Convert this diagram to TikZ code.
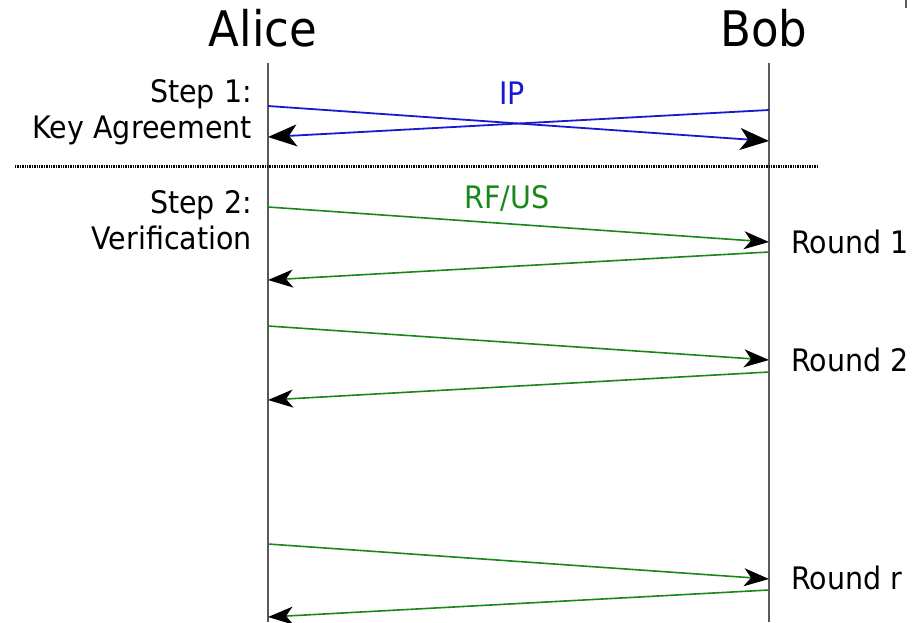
\documentclass[tikz,border=0pt]{standalone}
\usepackage{fontspec}
\setmainfont{DejaVu Sans}[FakeStretch=0.92]
\usetikzlibrary{arrows.meta}
\definecolor{msgblue}{RGB}{25,25,210}
\definecolor{msggreen}{RGB}{25,135,25}
\definecolor{lifeline}{RGB}{90,90,90}
\tikzset{
  party/.style={font=\fontsize{49}{49}\selectfont, anchor=base, inner sep=0pt},
  steplabel/.style={font=\fontsize{31}{31}\selectfont, anchor=base east, inner sep=0pt},
  roundlabel/.style={font=\fontsize{31}{31}\selectfont, anchor=base west, inner sep=0pt},
  lifeline/.style={draw=lifeline, line width=2.2pt},
  ipmsg/.style={draw=msgblue, line width=1.8pt, -{Stealth[length=29pt,width=22pt,inset=8pt,black]}},
  rfmsg/.style={draw=msggreen, line width=1.6pt, -{Stealth[length=25pt,width=18pt,inset=7pt,black]}},
}
\begin{document}
\begin{tikzpicture}[x=1pt, y=-1pt]
\useasboundingbox (0,0) rectangle (912,622);

% participants
\node[party] (alice) at (263,46) {Alice};
\node[party] (bob) at (764,46) {Bob};

% lifelines
\coordinate (atop) at (268,63);
\coordinate (abot) at (268,622);
\coordinate (btop) at (769,63);
\coordinate (bbot) at (769,622);
\draw[lifeline] (atop) -- (abot);
\draw[lifeline] (btop) -- (bbot);

% step labels
\node[steplabel] (s1a) at (252,102) {Step 1:};
\node[steplabel] (s1b) at (252,138) {Key Agreement};
\node[steplabel] (s2a) at (252,213) {Step 2:};
\node[steplabel] (s2b) at (252,249) {Verification};

% separator between the two steps
\coordinate (sepl) at (15,166.5);
\coordinate (sepr) at (818,166.5);
\draw[line width=2.4pt, dash pattern=on 1.4pt off 1pt] (sepl) -- (sepr);

% step 1: key agreement over IP
\node[font=\fontsize{31}{31}\selectfont, text=msgblue, anchor=base, inner sep=0pt] (ip) at (512,104) {IP};
\coordinate (k1s) at (268,106);
\coordinate (k1e) at (769,141);
\coordinate (k2s) at (769,110);
\coordinate (k2e) at (268,137);
\draw[ipmsg] (k1s) -- (k1e);
\draw[ipmsg] (k2s) -- (k2e);

% step 2: verification rounds over RF/US
\node[font=\fontsize{31}{31}\selectfont, text=msggreen, anchor=base, inner sep=0pt] (rf) at (507,208) {RF/US};

\coordinate (r1s) at (268,207);
\coordinate (r1e) at (769,242);
\coordinate (r1bs) at (769,252);
\coordinate (r1be) at (268,280);
\draw[rfmsg] (r1s) -- (r1e);
\draw[rfmsg] (r1bs) -- (r1be);
\node[roundlabel] (round1) at (791,253) {Round 1};

\coordinate (r2s) at (268,326);
\coordinate (r2e) at (769,360);
\coordinate (r2bs) at (769,372);
\coordinate (r2be) at (268,400);
\draw[rfmsg] (r2s) -- (r2e);
\draw[rfmsg] (r2bs) -- (r2be);
\node[roundlabel] (round2) at (791,371) {Round 2};

\coordinate (rrs) at (268,544);
\coordinate (rre) at (769,579);
\coordinate (rrbs) at (769,590);
\coordinate (rrbe) at (268,617);
\draw[rfmsg] (rrs) -- (rre);
\draw[rfmsg] (rrbs) -- (rrbe);
\node[roundlabel] (roundr) at (791,589) {Round r};

% small mark at the top edge
\coordinate (tk1) at (906,0);
\coordinate (tk2) at (906,8);
\draw[draw=lifeline, line width=2pt] (tk1) -- (tk2);
\end{tikzpicture}
\end{document}
